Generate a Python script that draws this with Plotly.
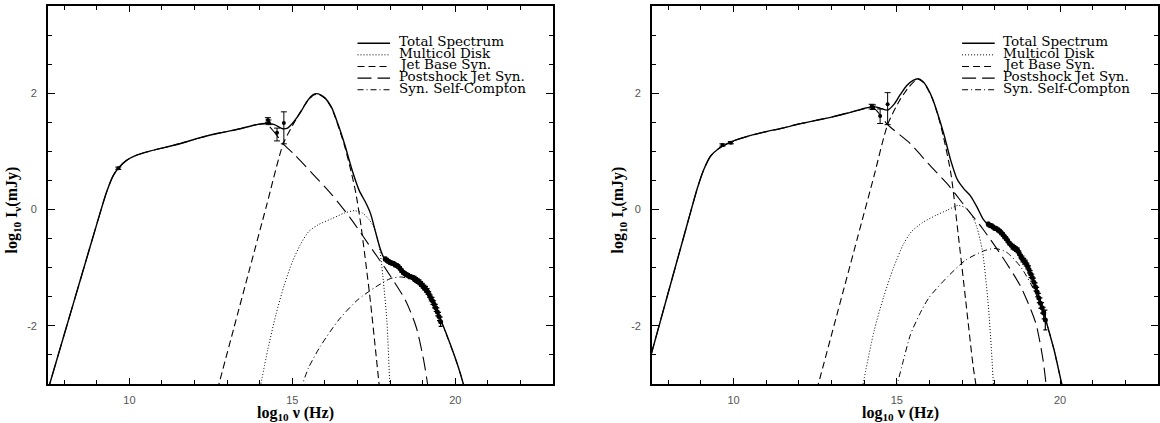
import plotly.graph_objects as go

# ================= LEFT PANEL DATA =================
L_total_x = [7.45, 8.0, 8.5, 9.0, 9.3, 9.5, 9.66, 9.9, 10.2, 10.6, 11.1, 11.6, 12.2, 12.8, 13.4, 13.9, 14.2,
             14.45, 14.7, 14.85, 15.0, 15.25, 15.45, 15.65, 15.8, 16.0, 16.2, 16.4, 16.6, 16.85, 17.05, 17.25,
             17.4, 17.55, 17.7, 17.85, 18.1, 18.3, 18.5, 18.8, 19.0, 19.2, 19.4, 19.6, 19.85, 20.1, 20.3]
L_total_y = [-3.2, -2.15, -1.2, -0.25, 0.3, 0.58, 0.71, 0.84, 0.93, 1.0, 1.07, 1.14, 1.24, 1.32, 1.39, 1.46, 1.48,
             1.46, 1.39, 1.40, 1.48, 1.67, 1.86, 1.98, 1.99, 1.92, 1.76, 1.47, 1.13, 0.65, 0.33, 0.12,
             -0.07, -0.38, -0.68, -0.87, -0.95, -1.02, -1.13, -1.22, -1.33, -1.50, -1.70, -1.96, -2.32, -2.72, -3.1]

L_disk_x = [14.0, 14.25, 14.5, 14.75, 15.0, 15.25, 15.5, 15.8, 16.2, 16.6, 16.9, 17.15, 17.35, 17.5, 17.67,
            17.78, 17.9, 17.99, 18.02]
L_disk_y = [-3.1, -2.4, -1.8, -1.3, -0.9, -0.6, -0.38, -0.26, -0.16, -0.06, -0.02, -0.06, -0.17, -0.30, -0.65,
            -1.16, -1.9, -3.0, -3.3]

L_jet_x = [12.7, 13.2, 13.7, 14.2, 14.72, 15.0, 15.25, 15.45, 15.65, 15.8, 16.0, 16.2, 16.4, 16.6, 16.8, 16.95,
           17.1, 17.25, 17.4, 17.55, 17.68]
L_jet_y = [-3.1, -2.05, -1.0, 0.05, 1.13, 1.44, 1.68, 1.85, 1.97, 1.98, 1.91, 1.75, 1.45, 1.1, 0.66, 0.28,
           -0.25, -0.9, -1.6, -2.4, -3.1]

L_post_x = [7.45, 8.0, 8.5, 9.0, 9.3, 9.5, 9.66, 9.9, 10.2, 10.6, 11.1, 11.6, 12.2, 12.8, 13.4, 13.9, 14.2,
            14.45, 14.72, 15.06, 15.63, 16.19, 16.76, 17.33, 17.9, 18.47, 18.8, 19.03, 19.15, 19.2]
L_post_y = [-3.2, -2.15, -1.2, -0.25, 0.3, 0.58, 0.71, 0.84, 0.93, 1.0, 1.07, 1.14, 1.24, 1.32, 1.39, 1.46, 1.47,
            1.33, 1.13, 0.95, 0.61, 0.27, -0.13, -0.59, -1.05, -1.56, -2.02, -2.59, -3.0, -3.2]

L_ssc_x = [15.25, 15.5, 15.85, 16.42, 16.99, 17.56, 18.0, 18.35, 18.69, 19.03, 19.2, 19.4, 19.6, 19.85, 20.1, 20.3]
L_ssc_y = [-3.1, -2.72, -2.36, -1.9, -1.56, -1.33, -1.19, -1.16, -1.22, -1.39, -1.52, -1.72, -1.97, -2.33, -2.72, -3.1]

# observed points (left)
L_pt_x = [9.66, 14.25, 14.27, 14.53, 14.74]
L_pt_y = [0.71, 1.54, 1.50, 1.32, 1.49]
L_pt_ep = [0.02, 0.04, 0.04, 0.08, 0.19]
L_pt_em = [0.02, 0.04, 0.04, 0.14, 0.36]

L_xr_x = [17.85, 17.9, 17.95, 18.0, 18.05, 18.1, 18.15, 18.2, 18.25, 18.3, 18.35, 18.4, 18.45, 18.5, 18.55,
          18.6, 18.65, 18.7, 18.75, 18.8, 18.85, 18.9, 18.95, 19.0, 19.05, 19.1, 19.15, 19.2, 19.25, 19.3,
          19.35, 19.4, 19.45, 19.5, 19.55]
L_xr_y = [-0.85, -0.87, -0.89, -0.91, -0.92, -0.93, -0.95, -0.96, -0.98, -1.01, -1.05, -1.08, -1.10, -1.12, -1.13,
          -1.15, -1.16, -1.17, -1.19, -1.21, -1.23, -1.25, -1.28, -1.31, -1.34, -1.37, -1.41, -1.46, -1.52, -1.57,
          -1.63, -1.69, -1.76, -1.84, -1.93]
L_xr_e = [0.03, 0.03, 0.03, 0.03, 0.03, 0.03, 0.03, 0.03, 0.03, 0.03, 0.03, 0.03, 0.03, 0.03, 0.03,
          0.03, 0.03, 0.03, 0.04, 0.04, 0.04, 0.04, 0.04, 0.04, 0.04, 0.05, 0.05, 0.05, 0.05, 0.06,
          0.06, 0.06, 0.07, 0.07, 0.08]

# ================= RIGHT PANEL DATA =================
R_total_x = [7.45, 8.0, 8.5, 8.9, 9.1, 9.3, 9.55, 9.8, 10.0, 10.5, 11.0, 11.5, 12.0, 12.5, 13.0, 13.5, 14.0,
             14.3, 14.5, 14.72, 14.9, 15.1, 15.3, 15.5, 15.65, 15.8, 15.95, 16.1, 16.25, 16.45, 16.65, 16.85,
             17.05, 17.25, 17.45, 17.65, 17.8, 18.0, 18.15, 18.35, 18.55, 18.8, 19.0, 19.15, 19.3, 19.5, 19.6,
             19.82, 20.05, 20.1]
R_total_y = [-2.55, -1.43, -0.42, 0.38, 0.7, 0.92, 1.05, 1.13, 1.18, 1.27, 1.34, 1.40, 1.47, 1.53, 1.59, 1.66, 1.74,
             1.77, 1.74, 1.71, 1.80, 1.97, 2.13, 2.22, 2.25, 2.20, 2.08, 1.90, 1.65, 1.28, 0.85, 0.52,
             0.36, 0.24, 0.05, -0.17, -0.26, -0.32, -0.38, -0.52, -0.64, -0.80, -0.97, -1.15, -1.42, -1.77, -1.97,
             -2.42, -2.99, -3.1]

R_disk_x = [13.95, 14.3, 14.6, 14.9, 15.2, 15.45, 15.8, 16.2, 16.55, 16.88, 17.1, 17.3, 17.45, 17.62, 17.79,
            17.9, 17.97, 18.0]
R_disk_y = [-3.05, -2.1, -1.5, -1.0, -0.6, -0.38, -0.22, -0.1, -0.01, 0.07, 0.03, -0.1, -0.3, -0.7, -1.56,
            -2.42, -3.1, -3.3]

R_jet_x = [12.55, 13.2, 13.8, 14.3, 14.72, 15.08, 15.36, 15.55, 15.65, 15.8, 15.95, 16.1, 16.25, 16.43, 16.66,
           16.88, 17.11, 17.34, 17.42, 17.46]
R_jet_y = [-3.1, -1.74, -0.48, 0.57, 1.46, 1.87, 2.1, 2.21, 2.24, 2.19, 2.07, 1.89, 1.64, 1.25, 0.61,
           -0.42, -1.56, -2.7, -3.0, -3.2]

R_post_x = [7.45, 8.0, 8.5, 8.9, 9.1, 9.3, 9.55, 9.8, 10.0, 10.5, 11.0, 11.5, 12.0, 12.5, 13.0, 13.5, 14.0,
            14.3, 14.5, 14.72, 15.42, 15.98, 16.55, 17.11, 17.67, 18.24, 18.8, 19.26, 19.48, 19.57, 19.6]
R_post_y = [-2.55, -1.43, -0.42, 0.38, 0.7, 0.92, 1.05, 1.13, 1.18, 1.27, 1.34, 1.40, 1.47, 1.53, 1.59, 1.66, 1.73,
            1.74, 1.62, 1.46, 1.13, 0.78, 0.44, 0.04, -0.36, -0.82, -1.33, -1.96, -2.59, -3.0, -3.2]

R_ssc_x = [14.97, 15.2, 15.42, 15.7, 15.98, 16.55, 17.11, 17.67, 18.01, 18.35, 18.8, 19.26, 19.59, 19.82, 20.05, 20.1]
R_ssc_y = [-3.1, -2.6, -2.15, -1.8, -1.52, -1.16, -0.87, -0.71, -0.67, -0.73, -0.99, -1.45, -1.96, -2.42, -3.0, -3.1]

R_pt_x = [9.66, 9.92, 14.23, 14.27, 14.49, 14.72]
R_pt_y = [1.11, 1.15, 1.77, 1.76, 1.61, 1.81]
R_pt_ep = [0.02, 0.02, 0.04, 0.04, 0.12, 0.20]
R_pt_em = [0.02, 0.02, 0.04, 0.04, 0.13, 0.35]

R_xr_x = [17.8, 17.85, 17.9, 17.95, 18.0, 18.05, 18.1, 18.15, 18.2, 18.25, 18.3, 18.35, 18.4, 18.45, 18.5,
          18.55, 18.6, 18.65, 18.7, 18.75, 18.8, 18.85, 18.9, 18.95, 19.0, 19.05, 19.1, 19.15, 19.2, 19.25,
          19.3, 19.35, 19.4, 19.45, 19.5, 19.55]
R_xr_y = [-0.25, -0.27, -0.28, -0.30, -0.32, -0.33, -0.35, -0.37, -0.40, -0.43, -0.47, -0.50, -0.54, -0.58, -0.61,
          -0.64, -0.66, -0.68, -0.70, -0.75, -0.81, -0.85, -0.89, -0.92, -0.97, -1.03, -1.11, -1.17, -1.25, -1.33,
          -1.42, -1.52, -1.61, -1.69, -1.78, -1.90]
R_xr_e = [0.03, 0.03, 0.03, 0.03, 0.03, 0.03, 0.03, 0.03, 0.03, 0.03, 0.03, 0.03, 0.03, 0.03, 0.03,
          0.04, 0.04, 0.04, 0.04, 0.04, 0.04, 0.05, 0.05, 0.05, 0.05, 0.06, 0.06, 0.06, 0.07, 0.07,
          0.08, 0.08, 0.09, 0.09, 0.10, 0.17]

LEGEND_LABELS = ["Total Spectrum", "Multicol Disk", "Jet Base Syn.", "Postshock Jet Syn.", "Syn. Self-Compton"]
X_TICKS = [10, 15, 20]
Y_TICKS = [-2, 0, 2]

# ================= STYLES =================
DASH = {
    "total": "solid",
    "disk": "1px,2px",
    "jet": "7px,4px",
    "post": "14px,6px",
    "ssc": "6px,3px,1px,3px",
}
WIDTH = {"total": 1.4, "disk": 1.0, "jet": 1.1, "post": 1.1, "ssc": 1.0}

fig = go.Figure()


def add_panel(xa, ya, comps, pts, xr):
    for key, (xs, ys) in comps:
        fig.add_trace(go.Scatter(
            x=xs, y=ys, mode="lines", xaxis=xa, yaxis=ya, showlegend=False,
            line=dict(color="black", width=WIDTH[key], dash=DASH[key], shape="spline", smoothing=0.7),
            hoverinfo="skip"))
    px, py, pep, pem = pts
    fig.add_trace(go.Scatter(
        x=px, y=py, mode="markers", xaxis=xa, yaxis=ya, showlegend=False,
        marker=dict(color="black", size=4),
        error_y=dict(type="data", array=pep, arrayminus=pem, color="black", thickness=1, width=3)))
    xx, xy, xe = xr
    fig.add_trace(go.Scatter(
        x=xx, y=xy, mode="markers", xaxis=xa, yaxis=ya, showlegend=False,
        marker=dict(color="black", size=5),
        error_y=dict(type="data", array=xe, color="black", thickness=1.2, width=2)))


add_panel("x", "y",
          [("disk", (L_disk_x, L_disk_y)), ("jet", (L_jet_x, L_jet_y)), ("post", (L_post_x, L_post_y)),
           ("ssc", (L_ssc_x, L_ssc_y)), ("total", (L_total_x, L_total_y))],
          (L_pt_x, L_pt_y, L_pt_ep, L_pt_em), (L_xr_x, L_xr_y, L_xr_e))
add_panel("x2", "y2",
          [("disk", (R_disk_x, R_disk_y)), ("jet", (R_jet_x, R_jet_y)), ("post", (R_post_x, R_post_y)),
           ("ssc", (R_ssc_x, R_ssc_y)), ("total", (R_total_x, R_total_y))],
          (R_pt_x, R_pt_y, R_pt_ep, R_pt_em), (R_xr_x, R_xr_y, R_xr_e))

W, H = 1160, 423
ML, MR, MT, MB = 0, 0, 6, 39

tickfont = dict(family="Liberation Sans, Arial, sans-serif", size=11, color="#555555")


def xaxis_def(domain, anchor):
    return dict(domain=domain, anchor=anchor, range=[7.5, 23], showline=True, mirror="allticks",
                linecolor="black", linewidth=1.5, ticks="inside", ticklen=6, tickwidth=1, tickcolor="black",
                tickvals=X_TICKS, ticktext=[str(v) for v in X_TICKS], tickfont=tickfont,
                minor=dict(dtick=1, tick0=0, ticks="inside", ticklen=4, tickcolor="black", tickwidth=1,
                           showgrid=False),
                showgrid=False, zeroline=False, ticklabelstandoff=5)


def yaxis_def(anchor):
    return dict(domain=[0, 1], anchor=anchor, range=[-3, 3.5], showline=True, mirror="allticks",
                linecolor="black", linewidth=1.5, ticks="inside", ticklen=7, tickwidth=1, tickcolor="black",
                tickvals=Y_TICKS, ticktext=[str(v) for v in Y_TICKS], tickfont=tickfont,
                minor=dict(dtick=0.5, tick0=0, ticks="inside", ticklen=4, tickcolor="black", tickwidth=1,
                           showgrid=False),
                showgrid=False, zeroline=False, ticklabelstandoff=7)


LX0, LX1 = 48 / W, 554 / W
RX0, RX1 = 653 / W, 1.0

fig.update_layout(
    width=W, height=H, margin=dict(l=ML, r=MR, t=MT, b=MB),
    paper_bgcolor="white", plot_bgcolor="white",
    xaxis=xaxis_def([LX0, LX1], "y"), yaxis=yaxis_def("x"),
    xaxis2=xaxis_def([RX0, RX1], "y2"), yaxis2=yaxis_def("x2"),
    showlegend=False,
)

# ---- legend blocks (drawn per panel) ----
LEG_ROWS = [2.86, 2.66, 2.46, 2.26, 2.06]
LEG_KEYS = ["total", "disk", "jet", "post", "ssc"]
legfont = dict(family="DejaVu Serif, serif", size=13.5, color="black")
shapes, annots = [], []
for xr_, yr_ in (("x", "y"), ("x2", "y2")):
    for lab, key, yy in zip(LEGEND_LABELS, LEG_KEYS, LEG_ROWS):
        shapes.append(dict(type="line", xref=xr_, yref=yr_, x0=17.0, x1=18.0, y0=yy, y1=yy,
                           line=dict(color="black", width=WIDTH[key], dash=DASH[key])))
        annots.append(dict(xref=xr_, yref=yr_, x=18.2, y=yy, text=lab, showarrow=False,
                           xanchor="left", yanchor="middle", yshift=2, font=legfont))

titlefont = dict(family="Liberation Serif, Times New Roman, serif", size=16, color="black")
for xr_, yr_, xpx in (("x", "y", 13), ("x2", "y2", 620)):
    annots.append(dict(xref="paper", yref=yr_, x=xpx / W, y=0.0, xanchor="center", yanchor="middle",
                       text="<b>log<sub>10</sub> I<sub>ν</sub>(mJy)</b>", textangle=-90, showarrow=False,
                       font=titlefont))
    annots.append(dict(xref=xr_, yref="paper", x=15.1, y=(384 - 413) / 378, xanchor="center",
                       yanchor="middle", text="<b>log<sub>10</sub> ν (Hz)</b>", showarrow=False,
                       font=titlefont))

fig.update_layout(shapes=shapes, annotations=annots)
fig.write_html("out.html", config={"displayModeBar": False},
               post_script="document.body.style.margin='0px';")
